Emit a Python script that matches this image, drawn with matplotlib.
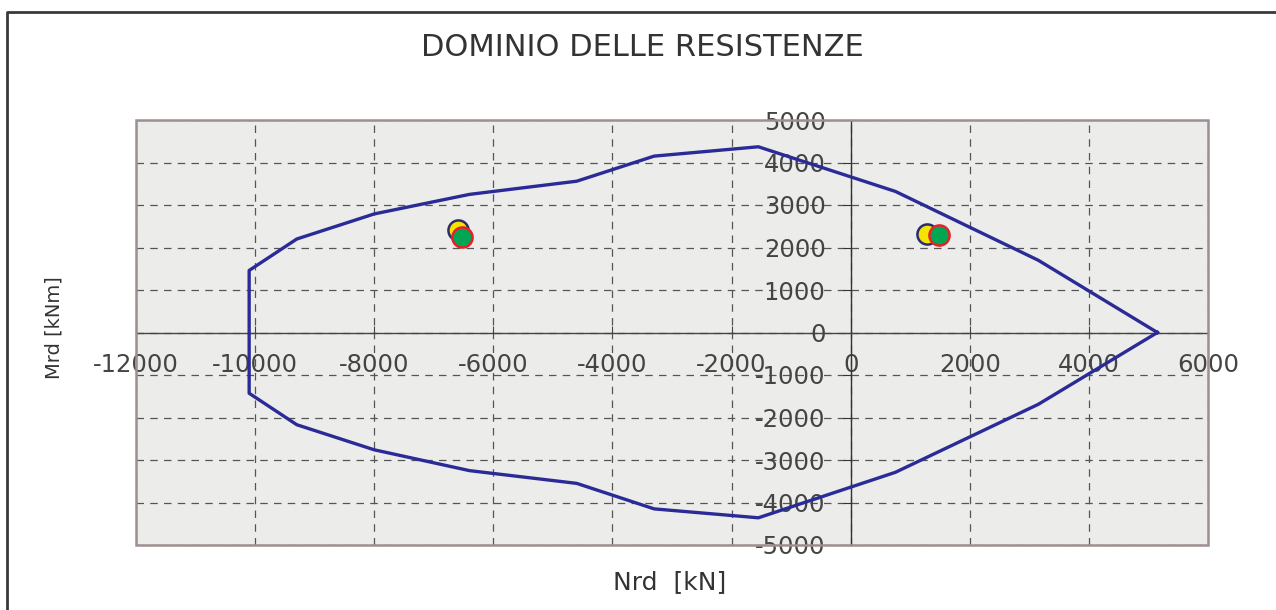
import numpy as np
import matplotlib
matplotlib.use("Agg")
import matplotlib.pyplot as plt
from matplotlib.lines import Line2D
from matplotlib.patches import Rectangle

# domain boundary (Nrd, Mrd), closed polygon
nrd_dom = [5150, 3150, 750, -1550, -3300, -4600, -6400, -8000, -9300, -10100,
           -10100, -9300, -8000, -6400, -4600, -3300, -1550, 750, 3150, 5150]
mrd_dom = [0, 1700, 3320, 4370, 4150, 3560, 3250, 2790, 2200, 1460,
           -1430, -2170, -2760, -3250, -3550, -4150, -4360, -3290, -1690, 0]

# design points
nrd_yellow = [-6600, 1280]
mrd_yellow = [2410, 2320]
nrd_green = [-6520, 1480]
mrd_green = [2250, 2300]

x_ticks = [-12000, -10000, -8000, -6000, -4000, -2000, 0, 2000, 4000, 6000]
y_ticks = [-5000, -4000, -3000, -2000, -1000, 0, 1000, 2000, 3000, 4000, 5000]

W, H = 1276, 610
fig = plt.figure(figsize=(W / 100, H / 100), dpi=100)
fig.patch.set_facecolor("white")

# outer frame (left and top only)
fig.add_artist(Line2D([7 / W, 7 / W, 1.0], [0.0, 1 - 12 / H, 1 - 12 / H],
                      transform=fig.transFigure, color="#3a3a3a", lw=2.0))

ax = fig.add_axes([136 / W, 1 - 545 / H, (1208 - 136) / W, (545 - 120) / H])
ax.set_facecolor("#ececea")
ax.set_xlim(-12000, 6000)
ax.set_ylim(-5000, 5000)

# plot area border
ax.add_patch(Rectangle((0, 0), 1, 1, transform=ax.transAxes, fill=False,
                       ec="#9d9090", lw=1.8, zorder=5, clip_on=False))

# axes through origin
for s in ["top", "right"]:
    ax.spines[s].set_visible(False)
ax.spines["bottom"].set_position(("data", 0))
ax.spines["left"].set_position(("data", 0))
ax.spines["bottom"].set_color("#444444")
ax.spines["left"].set_color("#333333")
ax.spines["bottom"].set_linewidth(1.0)
ax.spines["left"].set_linewidth(1.0)

ax.set_xticks(x_ticks)
ax.set_yticks(y_ticks)
ax.set_xticklabels([str(v) for v in x_ticks])
ax.set_yticklabels([str(v) for v in y_ticks])
ax.tick_params(axis="x", direction="in", length=5, pad=15, labelsize=17.5,
               labelcolor="#444444", color="#444444")
ax.tick_params(axis="y", direction="out", length=6, pad=12, labelsize=17.5,
               labelcolor="#444444", color="#333333")

ax.grid(True, ls=(0, (6, 5)), color="#555555", lw=0.9)
ax.set_axisbelow(True)

ax.plot(nrd_dom, mrd_dom, color="#2b2b98", lw=2.4, zorder=6, clip_on=False)
ax.plot(nrd_yellow, mrd_yellow, "o", ms=14.5, mfc="#f5e400", mec="#2b2b70",
        mew=1.8, zorder=7)
ax.plot(nrd_green, mrd_green, "o", ms=14.5, mfc="#00a651", mec="#e8202a",
        mew=1.8, zorder=8)

fig.text(642 / W, 1 - 48 / H, "DOMINIO DELLE RESISTENZE", ha="center",
         va="center", fontsize=22, color="#333333")
fig.text(670 / W, 1 - 582 / H, "Nrd  [kN]", ha="center", va="center",
         fontsize=18, color="#333333")
fig.text(54 / W, 1 - 328 / H, "Mrd [kNm]", ha="center", va="center",
         rotation=90, fontsize=14, color="#333333")

fig.savefig("out.png", dpi=100)
